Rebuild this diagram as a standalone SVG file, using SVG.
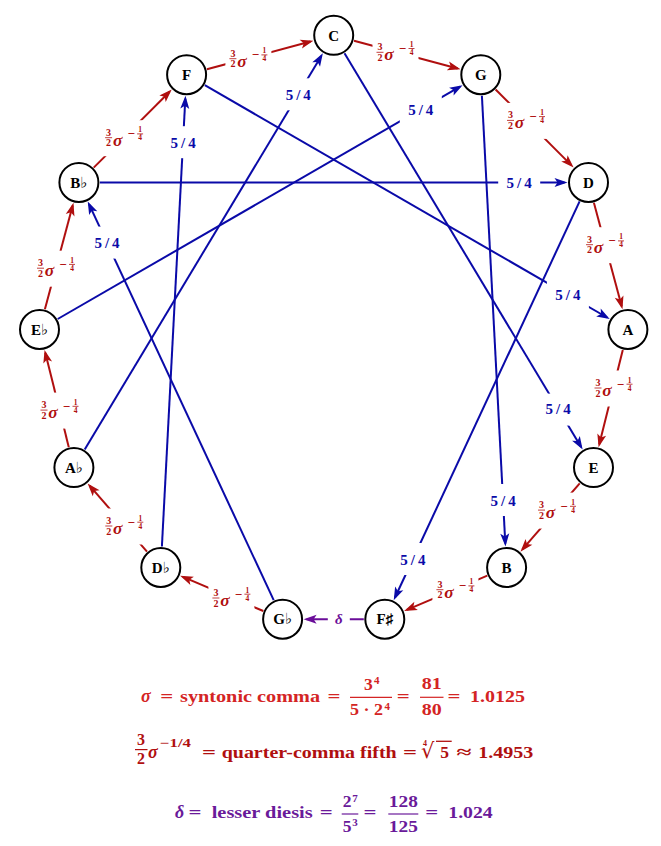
<svg xmlns="http://www.w3.org/2000/svg" width="661" height="846" viewBox="0 0 661 846">
<style>
.nd circle{fill:#fff;stroke:#000;stroke-width:2}
.nd text{font-family:"Liberation Serif","DejaVu Serif","DejaVu Sans",serif;font-weight:bold;font-size:15px;text-anchor:middle;fill:#000}
.r{stroke:#b00f0f;stroke-width:2;fill:none}
.b{stroke:#0a0aa8;stroke-width:2;fill:none}
.p{stroke:#6a0d99;stroke-width:2;fill:none}
.bg{fill:#fff}
text{font-family:"Liberation Serif","DejaVu Serif",serif;font-weight:bold}
.lr text{fill:#b00f0f}
.lr .n{font-size:10px;text-anchor:middle}
.lr .s{font-size:17.5px;font-style:italic;text-anchor:middle}
.lr .m{font-size:13px;text-anchor:middle}
.lr .t{font-size:7.5px;text-anchor:middle}
.lr line{stroke:#b00f0f;stroke-width:0.8}
.lb{fill:#0a0aa8;font-size:15px;text-anchor:middle;letter-spacing:3px}
.f1{fill:#d42424;font-size:17.5px}
.f2{fill:#b00f0f;font-size:17.5px}
.f3{fill:#6a1a9a;font-size:17.5px}
.c{text-anchor:middle}
.i{font-style:italic;font-size:18px}
.sm{font-size:11px}
</style>
<defs>
<marker id="mr" viewBox="-11 -5 15 10" refX="0" refY="0" markerWidth="15" markerHeight="10" markerUnits="userSpaceOnUse" orient="auto"><path d="M3,0 L-10,-4.5 L-7,0 L-10,4.5 Z" fill="#b00f0f"/></marker>
<marker id="mb" viewBox="-11 -5 15 10" refX="0" refY="0" markerWidth="15" markerHeight="10" markerUnits="userSpaceOnUse" orient="auto"><path d="M3,0 L-10,-4.5 L-7,0 L-10,4.5 Z" fill="#0a0aa8"/></marker>
<marker id="mp" viewBox="-11 -5 15 10" refX="0" refY="0" markerWidth="15" markerHeight="10" markerUnits="userSpaceOnUse" orient="auto"><path d="M3,0 L-10,-4.5 L-7,0 L-10,4.5 Z" fill="#6a0d99"/></marker>
</defs>

<g id="connectors">
<g id="fifths">
<line class="r" x1="206.9" y1="69.3" x2="310.5" y2="41.5" marker-end="url(#mr)"/>
<line class="r" x1="354.0" y1="40.7" x2="457.6" y2="68.5" marker-end="url(#mr)"/>
<line class="r" x1="495.6" y1="89.5" x2="571.5" y2="165.4" marker-end="url(#mr)"/>
<line class="r" x1="593.9" y1="202.7" x2="621.7" y2="306.3" marker-end="url(#mr)"/>
<line class="r" x1="622.8" y1="349.9" x2="599.3" y2="444.3" marker-end="url(#mr)"/>
<line class="r" x1="579.7" y1="483.4" x2="522.4" y2="549.4" marker-end="url(#mr)"/>
<line class="r" x1="487.3" y1="575.7" x2="406.9" y2="609.8" marker-end="url(#mr)"/>
<line class="r" x1="263.3" y1="611.0" x2="182.9" y2="576.9" marker-end="url(#mr)"/>
<line class="r" x1="147.0" y1="551.7" x2="89.6" y2="485.7" marker-end="url(#mr)"/>
<line class="r" x1="68.8" y1="447.2" x2="45.3" y2="352.8" marker-end="url(#mr)"/>
<line class="r" x1="44.9" y1="309.2" x2="72.7" y2="205.6" marker-end="url(#mr)"/>
<line class="r" x1="93.7" y1="167.6" x2="169.6" y2="91.7" marker-end="url(#mr)"/>
</g>
<g id="thirds">
<line class="b" x1="204.8" y1="85.2" x2="607.1" y2="317.5" marker-end="url(#mb)"/>
<line class="b" x1="344.5" y1="53.3" x2="581.1" y2="447.0" marker-end="url(#mb)"/>
<line class="b" x1="481.9" y1="95.7" x2="505.3" y2="543.5" marker-end="url(#mb)"/>
<line class="b" x1="579.6" y1="201.4" x2="395.0" y2="597.5" marker-end="url(#mb)"/>
<line class="b" x1="84.7" y1="449.6" x2="321.3" y2="55.9" marker-end="url(#mb)"/>
<line class="b" x1="57.7" y1="319.0" x2="460.0" y2="86.7" marker-end="url(#mb)"/>
<line class="b" x1="99.9" y1="182.4" x2="564.5" y2="182.4" marker-end="url(#mb)"/>
<line class="b" x1="161.9" y1="546.5" x2="185.3" y2="98.7" marker-end="url(#mb)"/>
<line class="b" x1="273.7" y1="600.2" x2="89.0" y2="204.1" marker-end="url(#mb)"/>
</g>
<line class="p" x1="363.8" y1="619.2" x2="306.6" y2="619.2" marker-end="url(#mp)"/>

<g id="label-bg">
<rect class="bg" x="225.4" y="41.2" width="46" height="36"/>
<rect class="bg" x="372.5" y="34.8" width="46" height="36"/>
<rect class="bg" x="503" y="102.9" width="46" height="36"/>
<rect class="bg" x="582" y="227.2" width="46" height="36"/>
<rect class="bg" x="590.5" y="370.5" width="46" height="36"/>
<rect class="bg" x="534" y="492.6" width="46" height="36"/>
<rect class="bg" x="432.4" y="572.2" width="46" height="36"/>
<rect class="bg" x="208.4" y="580.5" width="46" height="36"/>
<rect class="bg" x="101.3" y="508.5" width="46" height="36"/>
<rect class="bg" x="36.5" y="392.6" width="46" height="36"/>
<rect class="bg" x="33" y="250.7" width="46" height="36"/>
<rect class="bg" x="101.1" y="120.2" width="46" height="36"/>
<rect class="bg" x="546.9" y="279.8" width="42" height="32"/>
<rect class="bg" x="537.1" y="393.6" width="42" height="32"/>
<rect class="bg" x="482.1" y="484" width="42" height="32"/>
<rect class="bg" x="391.9" y="543" width="42" height="32"/>
<rect class="bg" x="277.3" y="78.3" width="42" height="32"/>
<rect class="bg" x="399.8" y="93.4" width="42" height="32"/>
<rect class="bg" x="498.2" y="166.4" width="42" height="32"/>
<rect class="bg" x="162.1" y="126.2" width="42" height="32"/>
<rect class="bg" x="86" y="226.6" width="42" height="32"/>
<rect class="bg" x="327.8" y="608.2" width="22" height="22"/>
</g>

<g id="fifth-labels" class="lr">
<g transform="translate(248.4,58.2)"><text class="n" x="-15.5" y="-1.5">3</text><line x1="-19" y1="0.5" x2="-12" y2="0.5"/><text class="n" x="-15.5" y="9.3">2</text><text class="s" x="-6.5" y="8.5">σ</text><text class="m" x="7" y="1">−</text><text class="t" x="16" y="-5">1</text><line x1="13" y1="-3.3" x2="19" y2="-3.3"/><text class="t" x="16" y="3">4</text></g>
<g transform="translate(395.5,51.8)"><text class="n" x="-15.5" y="-1.5">3</text><line x1="-19" y1="0.5" x2="-12" y2="0.5"/><text class="n" x="-15.5" y="9.3">2</text><text class="s" x="-6.5" y="8.5">σ</text><text class="m" x="7" y="1">−</text><text class="t" x="16" y="-5">1</text><line x1="13" y1="-3.3" x2="19" y2="-3.3"/><text class="t" x="16" y="3">4</text></g>
<g transform="translate(526,119.9)"><text class="n" x="-15.5" y="-1.5">3</text><line x1="-19" y1="0.5" x2="-12" y2="0.5"/><text class="n" x="-15.5" y="9.3">2</text><text class="s" x="-6.5" y="8.5">σ</text><text class="m" x="7" y="1">−</text><text class="t" x="16" y="-5">1</text><line x1="13" y1="-3.3" x2="19" y2="-3.3"/><text class="t" x="16" y="3">4</text></g>
<g transform="translate(605,244.2)"><text class="n" x="-15.5" y="-1.5">3</text><line x1="-19" y1="0.5" x2="-12" y2="0.5"/><text class="n" x="-15.5" y="9.3">2</text><text class="s" x="-6.5" y="8.5">σ</text><text class="m" x="7" y="1">−</text><text class="t" x="16" y="-5">1</text><line x1="13" y1="-3.3" x2="19" y2="-3.3"/><text class="t" x="16" y="3">4</text></g>
<g transform="translate(613.5,387.5)"><text class="n" x="-15.5" y="-1.5">3</text><line x1="-19" y1="0.5" x2="-12" y2="0.5"/><text class="n" x="-15.5" y="9.3">2</text><text class="s" x="-6.5" y="8.5">σ</text><text class="m" x="7" y="1">−</text><text class="t" x="16" y="-5">1</text><line x1="13" y1="-3.3" x2="19" y2="-3.3"/><text class="t" x="16" y="3">4</text></g>
<g transform="translate(557,509.6)"><text class="n" x="-15.5" y="-1.5">3</text><line x1="-19" y1="0.5" x2="-12" y2="0.5"/><text class="n" x="-15.5" y="9.3">2</text><text class="s" x="-6.5" y="8.5">σ</text><text class="m" x="7" y="1">−</text><text class="t" x="16" y="-5">1</text><line x1="13" y1="-3.3" x2="19" y2="-3.3"/><text class="t" x="16" y="3">4</text></g>
<g transform="translate(455.4,589.2)"><text class="n" x="-15.5" y="-1.5">3</text><line x1="-19" y1="0.5" x2="-12" y2="0.5"/><text class="n" x="-15.5" y="9.3">2</text><text class="s" x="-6.5" y="8.5">σ</text><text class="m" x="7" y="1">−</text><text class="t" x="16" y="-5">1</text><line x1="13" y1="-3.3" x2="19" y2="-3.3"/><text class="t" x="16" y="3">4</text></g>
<g transform="translate(231.4,597.5)"><text class="n" x="-15.5" y="-1.5">3</text><line x1="-19" y1="0.5" x2="-12" y2="0.5"/><text class="n" x="-15.5" y="9.3">2</text><text class="s" x="-6.5" y="8.5">σ</text><text class="m" x="7" y="1">−</text><text class="t" x="16" y="-5">1</text><line x1="13" y1="-3.3" x2="19" y2="-3.3"/><text class="t" x="16" y="3">4</text></g>
<g transform="translate(124.3,525.5)"><text class="n" x="-15.5" y="-1.5">3</text><line x1="-19" y1="0.5" x2="-12" y2="0.5"/><text class="n" x="-15.5" y="9.3">2</text><text class="s" x="-6.5" y="8.5">σ</text><text class="m" x="7" y="1">−</text><text class="t" x="16" y="-5">1</text><line x1="13" y1="-3.3" x2="19" y2="-3.3"/><text class="t" x="16" y="3">4</text></g>
<g transform="translate(59.5,409.6)"><text class="n" x="-15.5" y="-1.5">3</text><line x1="-19" y1="0.5" x2="-12" y2="0.5"/><text class="n" x="-15.5" y="9.3">2</text><text class="s" x="-6.5" y="8.5">σ</text><text class="m" x="7" y="1">−</text><text class="t" x="16" y="-5">1</text><line x1="13" y1="-3.3" x2="19" y2="-3.3"/><text class="t" x="16" y="3">4</text></g>
<g transform="translate(56,267.7)"><text class="n" x="-15.5" y="-1.5">3</text><line x1="-19" y1="0.5" x2="-12" y2="0.5"/><text class="n" x="-15.5" y="9.3">2</text><text class="s" x="-6.5" y="8.5">σ</text><text class="m" x="7" y="1">−</text><text class="t" x="16" y="-5">1</text><line x1="13" y1="-3.3" x2="19" y2="-3.3"/><text class="t" x="16" y="3">4</text></g>
<g transform="translate(124.1,137.2)"><text class="n" x="-15.5" y="-1.5">3</text><line x1="-19" y1="0.5" x2="-12" y2="0.5"/><text class="n" x="-15.5" y="9.3">2</text><text class="s" x="-6.5" y="8.5">σ</text><text class="m" x="7" y="1">−</text><text class="t" x="16" y="-5">1</text><line x1="13" y1="-3.3" x2="19" y2="-3.3"/><text class="t" x="16" y="3">4</text></g>
</g>

<g id="third-labels">
<text class="lb" x="569.4" y="300.3">5/4</text>
<text class="lb" x="559.6" y="414.1">5/4</text>
<text class="lb" x="504.6" y="505.5">5/4</text>
<text class="lb" x="414.4" y="564.5">5/4</text>
<text class="lb" x="299.8" y="99.8">5/4</text>
<text class="lb" x="422.3" y="114.9">5/4</text>
<text class="lb" x="520.7" y="187.9">5/4</text>
<text class="lb" x="184.6" y="147.7">5/4</text>
<text class="lb" x="108.5" y="248.1">5/4</text>
</g>
<text x="338.8" y="624" style="fill:#6a0d99;font-style:italic;font-size:15px;text-anchor:middle">δ</text>
</g>

<g id="node-C" class="nd"><circle cx="333.7" cy="35.3" r="19.5"/><text x="333.7" y="40.5">C</text></g>
<g id="node-G" class="nd"><circle cx="480.8" cy="74.7" r="19.5"/><text x="480.8" y="79.9">G</text></g>
<g id="node-D" class="nd"><circle cx="588.5" cy="182.4" r="19.5"/><text x="588.5" y="187.6">D</text></g>
<g id="node-A" class="nd"><circle cx="627.9" cy="329.5" r="19.5"/><text x="627.9" y="334.7">A</text></g>
<g id="node-E" class="nd"><circle cx="593.5" cy="467.6" r="19.5"/><text x="593.5" y="472.8">E</text></g>
<g id="node-B" class="nd"><circle cx="506.6" cy="567.5" r="19.5"/><text x="506.6" y="572.7">B</text></g>
<g id="node-Fs" class="nd"><circle cx="384.8" cy="619.2" r="19.5"/><text x="384.8" y="624.4">F♯</text></g>
<g id="node-Gb" class="nd"><circle cx="282.6" cy="619.2" r="19.5"/><text x="282.6" y="624.4">G♭</text></g>
<g id="node-Db" class="nd"><circle cx="160.8" cy="567.5" r="19.5"/><text x="160.8" y="572.7">D♭</text></g>
<g id="node-Ab" class="nd"><circle cx="73.9" cy="467.6" r="19.5"/><text x="73.9" y="472.8">A♭</text></g>
<g id="node-Eb" class="nd"><circle cx="39.5" cy="329.5" r="19.5"/><text x="39.5" y="334.7">E♭</text></g>
<g id="node-Bb" class="nd"><circle cx="78.9" cy="182.4" r="19.5"/><text x="78.9" y="187.6">B♭</text></g>
<g id="node-F" class="nd"><circle cx="186.6" cy="74.7" r="19.5"/><text x="186.6" y="79.9">F</text></g>

<g id="legend">
<g class="f1">
<text class="i" x="141" y="702">σ</text>
<text class="c" x="166.7" y="702" textLength="13" lengthAdjust="spacingAndGlyphs">=</text>
<text x="180" y="702" textLength="140" lengthAdjust="spacingAndGlyphs">syntonic comma</text>
<text class="c" x="334" y="702" textLength="13" lengthAdjust="spacingAndGlyphs">=</text>
<text class="c" x="368.3" y="689.5">3</text><text class="sm" x="374" y="684">4</text>
<line x1="350" y1="697.3" x2="392" y2="697.3" stroke="#d42424" stroke-width="1.2"/>
<text x="350" y="715" textLength="33" lengthAdjust="spacingAndGlyphs">5 · 2</text><text class="sm" x="384.5" y="709.5">4</text>
<text class="c" x="403.3" y="702" textLength="13" lengthAdjust="spacingAndGlyphs">=</text>
<text class="c" x="431.7" y="688.5" textLength="20" lengthAdjust="spacingAndGlyphs">81</text>
<line x1="420" y1="697.3" x2="443.5" y2="697.3" stroke="#d42424" stroke-width="1.2"/>
<text class="c" x="431.7" y="715" textLength="20" lengthAdjust="spacingAndGlyphs">80</text>
<text class="c" x="454" y="702" textLength="13" lengthAdjust="spacingAndGlyphs">=</text>
<text x="470" y="702" textLength="55" lengthAdjust="spacingAndGlyphs">1.0125</text>
</g>
<g class="f2">
<text class="c" x="141" y="745" style="font-size:16px">3</text>
<line x1="135" y1="749.6" x2="147.5" y2="749.6" stroke="#b00f0f" stroke-width="1.2"/>
<text class="c" x="141" y="763.5" style="font-size:16px">2</text>
<text class="i" x="148" y="758.3">σ</text>
<text x="160" y="747" style="font-size:12px" textLength="31" lengthAdjust="spacingAndGlyphs">−1/4</text>
<text class="c" x="209" y="758.3" textLength="14" lengthAdjust="spacingAndGlyphs">=</text>
<text x="221.7" y="758.3" textLength="175" lengthAdjust="spacingAndGlyphs">quarter-comma fifth</text>
<text class="c" x="410" y="758.3" textLength="14" lengthAdjust="spacingAndGlyphs">=</text>
<text x="421" y="757.5" style="font-size:21px;font-family:'DejaVu Sans',sans-serif;font-weight:normal">√</text>
<text x="423" y="745.5" style="font-size:8px">4</text>
<line x1="436" y1="741.3" x2="451.7" y2="741.3" stroke="#b00f0f" stroke-width="1.3"/>
<text class="c" x="444.5" y="758.3">5</text>
<text class="c" x="464" y="758.3" textLength="15" lengthAdjust="spacingAndGlyphs">≈</text>
<text x="478.3" y="758.3" textLength="55" lengthAdjust="spacingAndGlyphs">1.4953</text>
</g>
<g class="f3">
<text class="i" x="175" y="818.3">δ</text>
<text class="c" x="195" y="818.3" textLength="13" lengthAdjust="spacingAndGlyphs">=</text>
<text x="211.7" y="818.3" textLength="101" lengthAdjust="spacingAndGlyphs">lesser diesis</text>
<text class="c" x="326.3" y="818.3" textLength="13" lengthAdjust="spacingAndGlyphs">=</text>
<text class="c" x="347" y="806.7">2</text><text class="sm" x="352.3" y="801.5">7</text>
<line x1="341.7" y1="814" x2="358.3" y2="814" stroke="#6a1a9a" stroke-width="1.2"/>
<text class="c" x="347" y="831.7">5</text><text class="sm" x="352.3" y="826">3</text>
<text class="c" x="370" y="818.3" textLength="13" lengthAdjust="spacingAndGlyphs">=</text>
<text class="c" x="403.3" y="806.7" textLength="29" lengthAdjust="spacingAndGlyphs">128</text>
<line x1="388.3" y1="814" x2="418.3" y2="814" stroke="#6a1a9a" stroke-width="1.2"/>
<text class="c" x="403.3" y="831.7" textLength="29" lengthAdjust="spacingAndGlyphs">125</text>
<text class="c" x="431.7" y="818.3" textLength="13" lengthAdjust="spacingAndGlyphs">=</text>
<text x="448.3" y="818.3" textLength="44.4" lengthAdjust="spacingAndGlyphs">1.024</text>
</g>
</g>
</svg>
